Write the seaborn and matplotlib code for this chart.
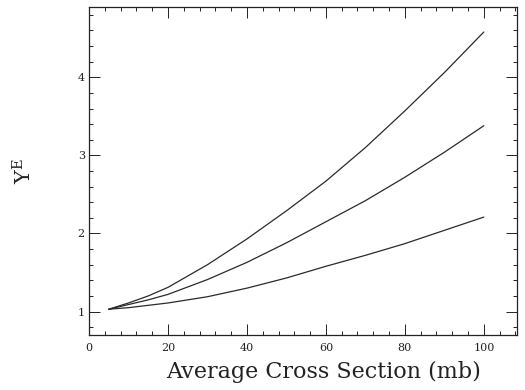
import pandas as pd
import numpy as np
import matplotlib
matplotlib.use("Agg")
import matplotlib.pyplot as plt
import seaborn as sns
from matplotlib.ticker import MultipleLocator

# ------------------------------------------------------------
# data (Y^E vs average cross section)
# ------------------------------------------------------------
sigma = [5, 10, 15, 20, 30, 40, 50, 60, 70, 80, 90, 100]
y_top = [1.03, 1.11, 1.20, 1.31, 1.60, 1.93, 2.29, 2.67, 3.10, 3.57, 4.06, 4.58]
y_mid = [1.03, 1.09, 1.15, 1.22, 1.41, 1.63, 1.88, 2.15, 2.42, 2.72, 3.04, 3.38]
y_low = [1.03, 1.05, 1.08, 1.11, 1.19, 1.30, 1.43, 1.58, 1.72, 1.87, 2.04, 2.21]
curve_names = ["top", "mid", "low"]

df = pd.DataFrame({
    "sigma": sigma * 3,
    "YE": y_top + y_mid + y_low,
    "curve": np.repeat(curve_names, len(sigma)),
})

sns.set_style("ticks")
plt.rcParams["font.family"] = ["DejaVu Serif"]
plt.rcParams["mathtext.default"] = "regular"

fig = plt.figure(figsize=(5.25, 3.9), dpi=100)
ax = fig.add_axes([89 / 525, 55 / 390, 428 / 525, 328 / 390])

sns.lineplot(data=df, x="sigma", y="YE", hue="curve",
             palette=["#2a2a2a"] * 3, linewidth=0.9, legend=False, ax=ax)

ax.set_xlim(0, 108.4)
ax.set_ylim(0.7, 4.9)
ax.xaxis.set_major_locator(MultipleLocator(20))
ax.xaxis.set_minor_locator(MultipleLocator(4))
ax.yaxis.set_major_locator(MultipleLocator(1))
ax.yaxis.set_minor_locator(MultipleLocator(0.2))

ax.tick_params(which="both", direction="in", top=True, right=True,
               colors="#222", width=0.7, labelsize=8)
ax.tick_params(which="major", length=8)
ax.tick_params(which="minor", length=3)
ax.tick_params(axis="x", which="major", pad=6)
ax.tick_params(axis="y", which="major", pad=3)

for sp in ax.spines.values():
    sp.set_linewidth(0.9)
    sp.set_color("#222")

ax.set_xlabel("Average Cross Section (mb)", fontsize=16, color="#222")
ax.set_ylabel("Y$^E$", fontsize=15, color="#222")
ax.xaxis.set_label_coords(0.547, -0.08)
ax.yaxis.set_label_coords(-0.126, 0.5)

fig.savefig("out.png", dpi=100)
